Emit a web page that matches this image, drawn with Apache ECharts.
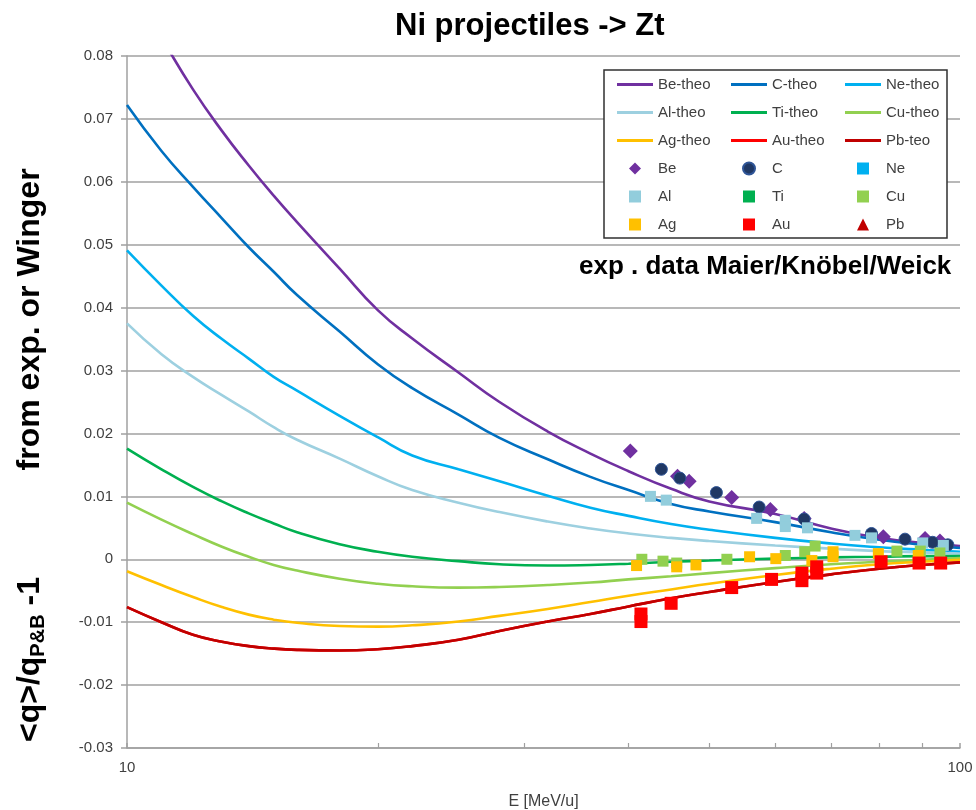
<!DOCTYPE html>
<html><head><meta charset="utf-8">
<script src="https://cdn.jsdelivr.net/npm/echarts@6/dist/echarts.min.js"></script>
<style>html,body{margin:0;padding:0;background:#fff}#c{width:976px;height:810px}</style>
</head><body><div id="c"></div>
<script>
// ---- data ----
const E_GRID = [10,11,12,13,14,15,16,18,20,22,25,28,32,36,40,45,50,60,70,80,90,100];
const BE_THEO = [0.0920,0.0829,0.0747,0.0681,0.0626,0.0578,0.0536,0.0462,0.0396,0.0351,0.0297,0.0250,0.0203,0.0168,0.0140,0.0112,0.0092,0.0072,0.0049,0.0034,0.0026,0.0021];
const C_THEO  = [0.0722,0.0649,0.0592,0.0542,0.0496,0.0457,0.0420,0.0362,0.0310,0.0272,0.0230,0.0193,0.0159,0.0131,0.0110,0.0088,0.0076,0.0059,0.0043,0.0031,0.0023,0.0018];
const NE_THEO = [0.0491,0.0435,0.0387,0.0350,0.0319,0.0290,0.0268,0.0228,0.0194,0.0165,0.0143,0.0124,0.0101,0.0082,0.0069,0.0056,0.0047,0.0034,0.0025,0.0019,0.0015,0.0012];
const AL_THEO = [0.0375,0.0326,0.0290,0.0261,0.0235,0.0210,0.0190,0.0160,0.0132,0.0110,0.0090,0.0075,0.0060,0.0049,0.0041,0.0034,0.0029,0.0022,0.0017,0.0013,0.0011,0.0009];
const TI_THEO = [0.0176,0.0143,0.0115,0.0092,0.0073,0.0057,0.0043,0.0024,0.0012,0.0004,-0.0003,-0.0008,-0.0010,-0.0009,-0.0007,-0.0004,-0.0002,0.0001,0.0003,0.0004,0.0005,0.0005];
const CU_THEO = [0.0090,0.0063,0.0040,0.0020,0.0004,-0.0009,-0.0018,-0.0031,-0.0039,-0.0043,-0.0045,-0.0044,-0.0041,-0.0037,-0.0032,-0.0027,-0.0022,-0.0014,-0.0008,-0.0004,-0.0001,0.0002];
const AG_THEO = [-0.0019,-0.0041,-0.0060,-0.0076,-0.0088,-0.0096,-0.0101,-0.0106,-0.0107,-0.0105,-0.0099,-0.0090,-0.0079,-0.0068,-0.0058,-0.0048,-0.0039,-0.0025,-0.0015,-0.0008,-0.0004,-0.0001];
const AU_THEO = [-0.0076,-0.0100,-0.0120,-0.0131,-0.0138,-0.0142,-0.0144,-0.0145,-0.0143,-0.0138,-0.0128,-0.0114,-0.0099,-0.0087,-0.0075,-0.0062,-0.0052,-0.0036,-0.0024,-0.0015,-0.0009,-0.0005];
const PB_THEO = [-0.0076,-0.0100,-0.0120,-0.0131,-0.0138,-0.0142,-0.0144,-0.0145,-0.0143,-0.0138,-0.0128,-0.0114,-0.0099,-0.0087,-0.0075,-0.0062,-0.0052,-0.0036,-0.0024,-0.0015,-0.0009,-0.0005];

const BE_E = [40.2,45.8,47.3,53.2,59.2,65.0,80.9,90.8,94.6];
const BE_V = [0.0172,0.0132,0.0124,0.0098,0.0079,0.0065,0.0036,0.0033,0.0029];
const C_E  = [43.8,46.1,51.0,57.4,65.0,78.3,85.9,92.7,96.7];
const C_V  = [0.0143,0.0129,0.0106,0.0083,0.0064,0.0041,0.0032,0.0027,0.0023];
const NE_E = [];
const NE_V = [];
const AL_E = [42.5,44.4,57.0,61.7,61.7,65.6,74.8,78.3,90.2,95.5];
const AL_V = [0.0100,0.0094,0.0065,0.0062,0.0052,0.0050,0.0038,0.0034,0.0026,0.0022];
const TI_E = [];
const TI_V = [];
const CU_E = [41.5,44.0,45.7,52.5,61.7,65.1,67.0,84.0,89.6,94.6];
const CU_V = [0.0000,-0.0003,-0.0006,0.0000,0.0006,0.0012,0.0021,0.0013,0.0013,0.0010];
const AG_E = [40.9,45.7,48.2,55.9,60.1,66.4,70.4,70.4,79.8,89.1];
const AG_V = [-0.0010,-0.0012,-0.0009,0.0004,0.0001,-0.0002,0.0012,0.0004,0.0009,0.0006];
const AU_E = [41.4,41.4,45.0,53.2,59.4,64.6,64.6,67.3,67.3,80.4,89.3,94.8];
const AU_V = [-0.0087,-0.0099,-0.0070,-0.0045,-0.0032,-0.0022,-0.0034,-0.0012,-0.0022,-0.0004,-0.0006,-0.0006];
const PB_E = [];
const PB_V = [];

const TITLE = 'Ni projectiles -> Zt';
const NOTE = 'exp . data Maier/Knöbel/Weick';

// ---- build ----
const pairs = (xs, ys) => xs.map((x, i) => [x, ys[i]]);
const theo = (name, ys, color) => ({
  name, type: 'line', data: pairs(E_GRID, ys), smooth: 0.5, symbol: 'none',
  lineStyle: { color, width: 2.6 }, itemStyle: { color }, z: 2, clip: true
});
const pts = (name, xs, ys, color, symbol, size, border) => ({
  name, type: 'scatter', data: pairs(xs, ys), symbol, symbolSize: size,
  itemStyle: { color, borderColor: border || color, borderWidth: border ? 1 : 0, opacity: 1 }, z: 3
});

const FONT = 'Liberation Sans, Arial, sans-serif';
const chart = echarts.init(document.getElementById('c'), null, { renderer: 'canvas' });
const LINE_ICON = 'path://M0,0 L36,0 L36,3 L0,3 Z';
const SQ = 'path://M0,0 L10,0 L10,10 L0,10 Z';
const SYM = {
  Be: 'path://M5,0 L10,5 L5,10 L0,5 Z',
  C: 'path://M5,0 A5,5,0,1,1,5,10 A5,5,0,1,1,5,0 Z',
  Ne: SQ, Al: SQ, Ti: SQ, Cu: SQ, Ag: SQ, Au: SQ,
  Pb: 'path://M5,0 L10,10 L0,10 Z'
};
const legendCols = [
  ['Be-theo', 'Al-theo', 'Ag-theo', 'Be', 'Al', 'Ag'],
  ['C-theo', 'Ti-theo', 'Au-theo', 'C', 'Ti', 'Au'],
  ['Ne-theo', 'Cu-theo', 'Pb-teo', 'Ne', 'Cu', 'Pb']
];
const legendLeft = [612, 726, 840];

chart.setOption({
  animation: false,
  backgroundColor: '#fff',
  title: {
    text: TITLE, left: 390, top: 6,
    textStyle: { fontFamily: FONT, fontSize: 31, fontWeight: 'bold', color: '#000' }
  },
  grid: { left: 127, right: 16, top: 56, bottom: 62, containLabel: false, outerBoundsMode: 'none' },
  xAxis: {
    type: 'log', logBase: 10, min: 10, max: 100,
    name: 'E [MeV/u]', nameLocation: 'middle', nameGap: 46,
    nameTextStyle: { fontFamily: FONT, fontSize: 16, color: '#404040' },
    axisLine: { show: true, onZero: false, lineStyle: { color: '#A0A0A0', width: 1.5 } },
    axisTick: { show: true, inside: true, length: 5, lineStyle: { color: '#A0A0A0', width: 1.5 } },
    minorTick: { show: true, splitNumber: 9, length: 5, lineStyle: { color: '#A0A0A0', width: 1.2 } },
    splitLine: { show: false },
    minorSplitLine: { show: false },
    axisLabel: { fontFamily: FONT, fontSize: 15, color: '#404040', margin: 12 }
  },
  yAxis: {
    type: 'value', min: -0.03, max: 0.08, interval: 0.01,
    axisLine: { show: true, onZero: false, lineStyle: { color: '#A0A0A0', width: 1.5 } },
    axisTick: { show: true, length: 6, lineStyle: { color: '#A0A0A0', width: 1.5 } },
    splitLine: { show: true, lineStyle: { color: '#A0A0A0', width: 1.5 } },
    axisLabel: {
      fontFamily: FONT, fontSize: 15, color: '#404040', margin: 14,
      formatter: v => Math.abs(v) < 1e-9 ? '0' : v.toFixed(2)
    }
  },
  legend: legendCols.map((col, i) => ({
    orient: 'vertical', left: legendLeft[i], top: 72,
    itemWidth: 36, itemHeight: 12, itemGap: 13, selectedMode: false, symbolKeepAspect: true,
    data: col.map(n => ({ name: n, icon: n.indexOf('-') > 0 ? LINE_ICON : SYM[n] })),
    textStyle: { fontFamily: FONT, fontSize: 15, color: '#404040', lineHeight: 15 }
  })),
  graphic: [
    { type: 'rect', z: 3, shape: { x: 604, y: 70, width: 343, height: 168 },
      style: { fill: '#fff', stroke: '#303030', lineWidth: 1.5 } },
    { type: 'text', z: 5, x: 579, y: 267,
      style: { text: NOTE, fontFamily: FONT, fontSize: 26, fontWeight: 'bold', fill: '#000',
               align: 'left', verticalAlign: 'middle' } },
    { type: 'text', z: 5, x: 30, y: 742, rotation: Math.PI / 2,
      style: {
        text: '{a|<q>/q}{s|P&B}{a| -1            from exp. or Winger}',
        align: 'left', verticalAlign: 'middle',
        rich: {
          a: { fontFamily: FONT, fontSize: 32, fontWeight: 'bold', fill: '#000', lineHeight: 36, verticalAlign: 'middle' },
          s: { fontFamily: FONT, fontSize: 20, fontWeight: 'bold', fill: '#000', lineHeight: 36, verticalAlign: 'bottom' }
        }
      } }
  ],
  series: [
    theo('Be-theo', BE_THEO, '#7030A0'),
    theo('C-theo', C_THEO, '#0070C0'),
    theo('Ne-theo', NE_THEO, '#00B0F0'),
    theo('Al-theo', AL_THEO, '#9DD0E0'),
    theo('Ti-theo', TI_THEO, '#00B050'),
    theo('Cu-theo', CU_THEO, '#92D050'),
    theo('Ag-theo', AG_THEO, '#FFC000'),
    theo('Au-theo', AU_THEO, '#FF0000'),
    theo('Pb-teo', PB_THEO, '#C00000'),
    pts('Be', BE_E, BE_V, '#7030A0', 'diamond', 15),
    pts('C', C_E, C_V, '#203864', 'circle', 12, '#2F5597'),
    pts('Ne', NE_E, NE_V, '#00B0F0', 'rect', 10),
    pts('Al', AL_E, AL_V, '#92CDDC', 'rect', 11),
    pts('Ti', TI_E, TI_V, '#00B050', 'rect', 10),
    pts('Cu', CU_E, CU_V, '#92D050', 'rect', 11),
    pts('Ag', AG_E, AG_V, '#FFC000', 'rect', 11),
    pts('Au', AU_E, AU_V, '#FF0000', 'rect', 13),
    pts('Pb', PB_E, PB_V, '#C00000', 'triangle', 12)
  ]
});
</script>
</body></html>
